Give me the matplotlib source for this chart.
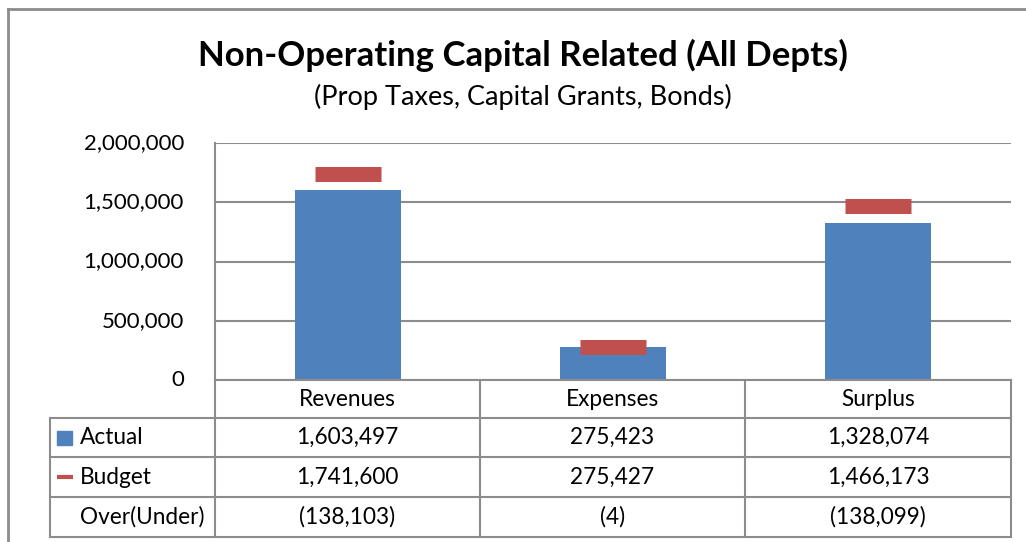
import matplotlib
matplotlib.use("Agg")
import matplotlib.pyplot as plt
from matplotlib.patches import Rectangle
from matplotlib.lines import Line2D

categories = ["Revenues", "Expenses", "Surplus"]
actual = [1603497, 275423, 1328074]
budget = [1741600, 275427, 1466173]
over_under = ["(138,103)", "(4)", "(138,099)"]
actual_labels = ["1,603,497", "275,423", "1,328,074"]
budget_labels = ["1,741,600", "275,427", "1,466,173"]
yticks = [0, 500000, 1000000, 1500000, 2000000]
ytick_labels = ["0", "500,000", "1,000,000", "1,500,000", "2,000,000"]

BLUE = "#4F81BD"
RED = "#C0504D"
GRAY = "#8C8C8C"
FONT = ["Lato", "DejaVu Sans"]

W, H = 1026, 542
fig = plt.figure(figsize=(W / 100, H / 100), dpi=100)
plt.rcParams['font.family'] = FONT

# pixel layout
L, R, T, B = 215, 1011, 143, 380
ax = fig.add_axes([L / W, 1 - B / H, (R - L) / W, (B - T) / H])
x = list(range(len(categories)))
ax.bar(x, actual, width=0.4, color=BLUE, zorder=2)
ax.plot(x, budget, linestyle="none", marker="_", markersize=47,
        markeredgewidth=10.8, color=RED, zorder=3)
ax.set_xlim(-0.5, len(categories) - 0.5)
ax.set_ylim(0, 2000000)
ax.set_yticks(yticks)
ax.set_yticklabels([])
ax.set_xticks([])
ax.yaxis.grid(True, color=GRAY, linewidth=1.5, zorder=0)
for s in ["top", "right"]:
    ax.spines[s].set_visible(False)
for s in ["left", "bottom"]:
    ax.spines[s].set_color(GRAY)
    ax.spines[s].set_linewidth(1.5)
ax.tick_params(length=0)

# overlay for texts and table in pixel coordinates
ov = fig.add_axes([0, 0, 1, 1], facecolor="none")
ov.set_xlim(0, W)
ov.set_ylim(H, 0)
ov.axis("off")

# outer chart border (cropped at right/bottom)
ov.add_line(Line2D([8, 8], [9, H + 5], color=GRAY, linewidth=2))
ov.add_line(Line2D([8, W + 5], [9, 9], color=GRAY, linewidth=2))

ov.text(523, 55, "Non-Operating Capital Related (All Depts)", ha="center",
        va="center", fontsize=25, fontweight="bold", color="black")
ov.text(523, 97, "(Prop Taxes, Capital Grants, Bonds)", ha="center",
        va="center", fontsize=19.5, color="black")

# y tick labels
def ypix(v):
    return B - (B - T) * v / 2000000.0

for v, lab in zip(yticks, ytick_labels):
    ov.text(184, ypix(v), lab, ha="right", va="center", fontsize=16)

# table
cols = [L, 480, 745, R]
rows = [B, 418, 457, 497, 537]
lw = 1.5
for yv in rows[1:]:
    ov.add_line(Line2D([50, R], [yv, yv], color=GRAY, linewidth=lw))
ov.add_line(Line2D([50, 50], [rows[1], rows[-1]], color=GRAY, linewidth=lw))
for xv in cols:
    ov.add_line(Line2D([xv, xv], [rows[0], rows[-1]], color=GRAY, linewidth=lw))

centers = [(cols[i] + cols[i + 1]) / 2 for i in range(3)]
rc = [(rows[i] + rows[i + 1]) / 2 for i in range(4)]
fs = 16.3
for i, c in enumerate(categories):
    ov.text(centers[i], rc[0], c, ha="center", va="center", fontsize=fs)
    ov.text(centers[i], rc[1], actual_labels[i], ha="center", va="center", fontsize=fs)
    ov.text(centers[i], rc[2], budget_labels[i], ha="center", va="center", fontsize=fs)
    ov.text(centers[i], rc[3], over_under[i], ha="center", va="center", fontsize=fs)

ov.add_patch(Rectangle((57, rc[1] - 7), 15, 14, color=BLUE))
ov.add_line(Line2D([57, 73], [rc[2], rc[2]], color=RED, linewidth=3, solid_capstyle="butt"))
ov.text(80, rc[1], "Actual", ha="left", va="center", fontsize=fs)
ov.text(80, rc[2], "Budget", ha="left", va="center", fontsize=fs)
ov.text(80, rc[3], "Over(Under)", ha="left", va="center", fontsize=fs)

fig.savefig("out.png", dpi=100)
